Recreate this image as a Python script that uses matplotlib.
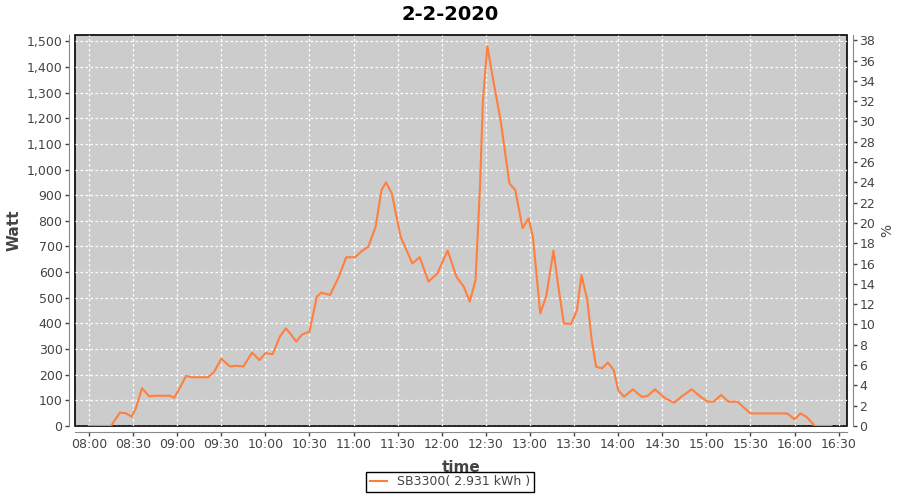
import matplotlib
matplotlib.use("Agg")
import matplotlib.pyplot as plt
import matplotlib.dates as mdates
import matplotlib.ticker as mticker
import pandas as pd

# data
day = "2020-02-02"
times = ["08:00", "08:15", "08:21", "08:25", "08:29", "08:32", "08:36", "08:41", "08:45", "08:55",
         "08:58", "09:01", "09:06", "09:10", "09:21", "09:25", "09:30", "09:36", "09:40", "09:45",
         "09:51", "09:56", "10:00", "10:05", "10:10", "10:14", "10:17", "10:21", "10:25", "10:30",
         "10:35", "10:38", "10:44", "10:50", "10:55", "11:01", "11:06", "11:10", "11:15", "11:19",
         "11:22", "11:26", "11:32", "11:40", "11:45", "11:51", "11:57", "12:04", "12:10", "12:15",
         "12:19", "12:23", "12:26", "12:28", "12:31", "12:35", "12:40", "12:46", "12:50", "12:55",
         "12:59", "13:02", "13:07", "13:11", "13:16", "13:19", "13:23", "13:28", "13:32", "13:35",
         "13:39", "13:42", "13:45", "13:49", "13:53", "13:57", "14:00", "14:04", "14:10", "14:16",
         "14:20", "14:25", "14:32", "14:38", "14:43", "14:50", "14:56", "15:01", "15:05", "15:10",
         "15:15", "15:21", "15:30", "15:55", "16:00", "16:04", "16:08", "16:14", "16:25"]
watts = [0, 0, 52, 50, 36, 70, 147, 116, 118, 118,
         110, 140, 195, 190, 190, 210, 262, 232, 235, 232,
         286, 257, 284, 280, 350, 381, 360, 329, 357, 368,
         504, 520, 511, 582, 658, 658, 684, 699, 777, 920,
         950, 907, 738, 634, 658, 563, 595, 684, 582, 543,
         485, 569, 933, 1271, 1481, 1349, 1193, 946, 920, 771,
         810, 738, 439, 504, 684, 556, 400, 398, 452, 589,
         491, 335, 231, 225, 247, 218, 140, 114, 143, 114,
         117, 143, 108, 91, 114, 143, 114, 95, 95, 121,
         95, 95, 49, 49, 26, 49, 36, 0, 0]
series_label = "SB3300( 2.931 kWh )"
title = "2-2-2020"

t = pd.to_datetime([day + " " + s for s in times])

fig = plt.figure(figsize=(9, 5), dpi=100)
ax = fig.add_axes([75/900, 74/500, 772/900, 391/500])
ax.set_facecolor("#cccccc")
ax.patch.set_edgecolor("black")
ax.patch.set_linewidth(1.2)

ax.plot(t, watts, color="#ff7f3f", lw=1.5, label=series_label, zorder=3)

ax.set_xlim(pd.Timestamp(day + " 07:50:30"), pd.Timestamp(day + " 16:35:40"))
ax.set_ylim(0, 1524.6)
ax.yaxis.set_major_locator(mticker.MultipleLocator(100))
ax.yaxis.set_major_formatter(mticker.FuncFormatter(lambda v, p: f"{int(v):,}"))
ax.xaxis.set_major_locator(mdates.MinuteLocator(byminute=[0, 30]))
ax.xaxis.set_major_formatter(mdates.DateFormatter("%H:%M"))
ax.grid(True, color="white", linestyle=(0, (2, 2)), linewidth=0.9)
ax.set_axisbelow(True)

ax2 = ax.twinx()
ax2.set_ylim(0, 38.52)
ax2.yaxis.set_major_locator(mticker.MultipleLocator(2))

for a in (ax, ax2):
    for side in ("left", "right", "bottom", "top"):
        a.spines[side].set_visible(False)
    a.tick_params(colors="#444444", labelsize=9, length=3, width=1, pad=2)
for side, a in (("left", ax), ("bottom", ax), ("right", ax2)):
    a.spines[side].set_visible(True)
    a.spines[side].set_position(("outward", 4))
    a.spines[side].set_color("#888888")

ax.set_ylabel("Watt", fontsize=11, fontweight="bold", color="#444444")
ax.yaxis.set_label_coords(-0.069, 0.5)
ax.set_xlabel("time", fontsize=11, fontweight="bold", color="#444444")
ax.xaxis.set_label_coords(0.5, -0.087)
ax2.set_ylabel("%", fontsize=10, color="#444444")
ax2.yaxis.set_label_coords(1.043, 0.5)

fig.suptitle(title, fontsize=14, fontweight="bold", y=0.99)

leg = fig.legend(loc="lower center", bbox_to_anchor=(0.5, 0.003), fontsize=9,
                 fancybox=False, edgecolor="black", framealpha=1,
                 handlelength=1.4, borderpad=0.3)
leg.get_frame().set_linewidth(1.0)
for txt in leg.get_texts():
    txt.set_color("#444444")

fig.savefig("out.png", dpi=100)
